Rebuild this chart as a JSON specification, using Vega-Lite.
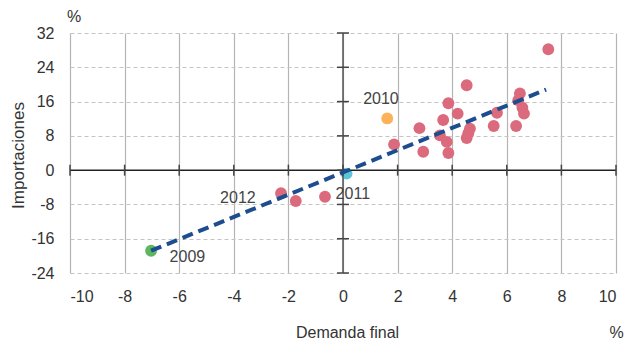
{
  "$schema": "https://vega.github.io/schema/vega-lite/v6.json",
  "width": 546,
  "height": 240,
  "autosize": {"type": "none"},
  "padding": {"left": 70, "top": 33, "right": 17, "bottom": 70},
  "config": {
    "font": "Liberation Sans",
    "view": {"stroke": null},
    "axis": {
      "labelFont": "Liberation Sans",
      "titleFont": "Liberation Sans",
      "labelFontSize": 16,
      "titleFontSize": 16,
      "titleFontWeight": "normal",
      "labelColor": "#333333",
      "titleColor": "#333333"
    }
  },
  "datasets": {
    "puntos": [
      {"demanda": 7.52, "importaciones": 28.2, "grupo": "resto"},
      {"demanda": 4.53, "importaciones": 19.8, "grupo": "resto"},
      {"demanda": 3.86, "importaciones": 15.6, "grupo": "resto"},
      {"demanda": 4.2, "importaciones": 13.2, "grupo": "resto"},
      {"demanda": 3.67, "importaciones": 11.7, "grupo": "resto"},
      {"demanda": 2.8, "importaciones": 9.8, "grupo": "resto"},
      {"demanda": 1.87, "importaciones": 6.0, "grupo": "resto"},
      {"demanda": 2.94, "importaciones": 4.3, "grupo": "resto"},
      {"demanda": 3.86, "importaciones": 4.0, "grupo": "resto"},
      {"demanda": 3.55, "importaciones": 8.1, "grupo": "resto"},
      {"demanda": 3.8, "importaciones": 6.6, "grupo": "resto"},
      {"demanda": 4.53, "importaciones": 7.5, "grupo": "resto"},
      {"demanda": 4.59, "importaciones": 8.6, "grupo": "resto"},
      {"demanda": 4.65, "importaciones": 9.7, "grupo": "resto"},
      {"demanda": 5.64, "importaciones": 13.4, "grupo": "resto"},
      {"demanda": 5.52, "importaciones": 10.3, "grupo": "resto"},
      {"demanda": 6.34, "importaciones": 10.3, "grupo": "resto"},
      {"demanda": 6.48, "importaciones": 17.9, "grupo": "resto"},
      {"demanda": 6.42, "importaciones": 16.3, "grupo": "resto"},
      {"demanda": 6.57, "importaciones": 14.6, "grupo": "resto"},
      {"demanda": 6.63, "importaciones": 13.2, "grupo": "resto"},
      {"demanda": -2.27, "importaciones": -5.4, "grupo": "resto"},
      {"demanda": -1.73, "importaciones": -7.2, "grupo": "resto"},
      {"demanda": -0.66, "importaciones": -6.2, "grupo": "resto"},
      {"demanda": -7.03, "importaciones": -18.8, "grupo": "2009"},
      {"demanda": 1.62, "importaciones": 12.06, "grupo": "2010"},
      {"demanda": 0.13, "importaciones": -0.8, "grupo": "2011"}
    ],
    "tendencia": [
      {"demanda": -7.03, "importaciones": -18.8},
      {"demanda": 7.44, "importaciones": 18.8}
    ],
    "etiquetas": [
      {"texto": "2010", "lx": 1.39, "ly": 16.5},
      {"texto": "2012", "lx": -3.85, "ly": -6.6},
      {"texto": "2009", "lx": -5.7, "ly": -20.2},
      {"texto": "2011", "lx": 0.36, "ly": -5.45}
    ],
    "ejes": [{"cero": 0}],
    "marcasX": [
      {"v": -10}, {"v": -8}, {"v": -6}, {"v": -4}, {"v": -2}, {"v": 0},
      {"v": 2}, {"v": 4}, {"v": 6}, {"v": 8}, {"v": 10}
    ],
    "marcasY": [
      {"v": -24}, {"v": -16}, {"v": -8}, {"v": 0}, {"v": 8}, {"v": 16}, {"v": 24}, {"v": 32}
    ]
  },
  "layer": [
    {
      "data": {"name": "puntos"},
      "mark": {"type": "circle", "size": 140, "opacity": 1},
      "encoding": {
        "x": {
          "field": "demanda",
          "type": "quantitative",
          "scale": {"domain": [-10, 10], "nice": false, "zero": false},
          "axis": {
            "orient": "bottom",
            "values": [-10, -8, -6, -4, -2, 0, 2, 4, 6, 8, 10],
            "labelExpr": "datum.value + ''",
            "grid": true,
            "gridColor": "#b4b4b4",
            "gridWidth": 1.2,
            "domain": false,
            "ticks": false,
            "labelPadding": 15,
            "title": "Demanda final",
            "titleX": 277,
            "titleY": 59,
            "titleAlign": "center",
            "titleBaseline": "middle"
          }
        },
        "y": {
          "field": "importaciones",
          "type": "quantitative",
          "scale": {"domain": [-24, 32], "nice": false, "zero": false},
          "axis": {
            "orient": "left",
            "values": [-24, -16, -8, 0, 8, 16, 24, 32],
            "labelExpr": "datum.value + ''",
            "grid": true,
            "gridColor": "#c4c4c4",
            "gridDash": [4, 3],
            "gridWidth": 1,
            "domain": false,
            "ticks": false,
            "labelPadding": 16,
            "title": "Importaciones",
            "titleFontSize": 17,
            "titleAngle": -90,
            "titleX": -52,
            "titleY": 122,
            "titleAlign": "center",
            "titleBaseline": "middle"
          }
        },
        "color": {
          "field": "grupo",
          "type": "nominal",
          "scale": {
            "domain": ["resto", "2009", "2010", "2011"],
            "range": ["#db6a7c", "#5cb85f", "#fbb25a", "#5bc6d8"]
          },
          "legend": null
        }
      }
    },
    {
      "data": {"name": "ejes"},
      "mark": {"type": "rule", "color": "#222222", "strokeWidth": 1.5},
      "encoding": {"y": {"field": "cero", "type": "quantitative", "axis": null}}
    },
    {
      "data": {"name": "ejes"},
      "mark": {"type": "rule", "color": "#555555", "strokeWidth": 1.5},
      "encoding": {"x": {"field": "cero", "type": "quantitative", "axis": null}}
    },
    {
      "data": {"name": "marcasX"},
      "mark": {"type": "tick", "orient": "vertical", "size": 11, "thickness": 1.5, "color": "#444444", "opacity": 1},
      "encoding": {
        "x": {"field": "v", "type": "quantitative", "axis": null},
        "y": {"datum": 0, "type": "quantitative", "axis": null}
      }
    },
    {
      "data": {"name": "marcasY"},
      "mark": {"type": "tick", "orient": "horizontal", "size": 12, "thickness": 1.5, "color": "#444444", "opacity": 1},
      "encoding": {
        "y": {"field": "v", "type": "quantitative", "axis": null},
        "x": {"datum": 0, "type": "quantitative", "axis": null}
      }
    },
    {
      "data": {"name": "tendencia"},
      "mark": {"type": "line", "color": "#1d4d8e", "strokeWidth": 4, "strokeDash": [11, 6]},
      "encoding": {
        "x": {
          "field": "demanda",
          "type": "quantitative",
          "axis": {
            "orient": "bottom",
            "labels": false,
            "ticks": false,
            "domain": false,
            "grid": false,
            "title": "%",
            "titleX": 546,
            "titleY": 59,
            "titleAlign": "center",
            "titleBaseline": "middle"
          }
        },
        "y": {
          "field": "importaciones",
          "type": "quantitative",
          "axis": {
            "orient": "left",
            "labels": false,
            "ticks": false,
            "domain": false,
            "grid": false,
            "title": "%",
            "titleAngle": 0,
            "titleX": 3.5,
            "titleY": -17,
            "titleAlign": "center",
            "titleBaseline": "middle"
          }
        }
      }
    },
    {
      "data": {"name": "etiquetas"},
      "mark": {"type": "text", "fontSize": 16, "color": "#444444", "align": "center", "baseline": "middle", "font": "Liberation Sans"},
      "encoding": {
        "x": {"field": "lx", "type": "quantitative", "axis": null},
        "y": {"field": "ly", "type": "quantitative", "axis": null},
        "text": {"field": "texto"}
      }
    }
  ],
  "resolve": {"axis": {"x": "independent", "y": "independent"}}
}
